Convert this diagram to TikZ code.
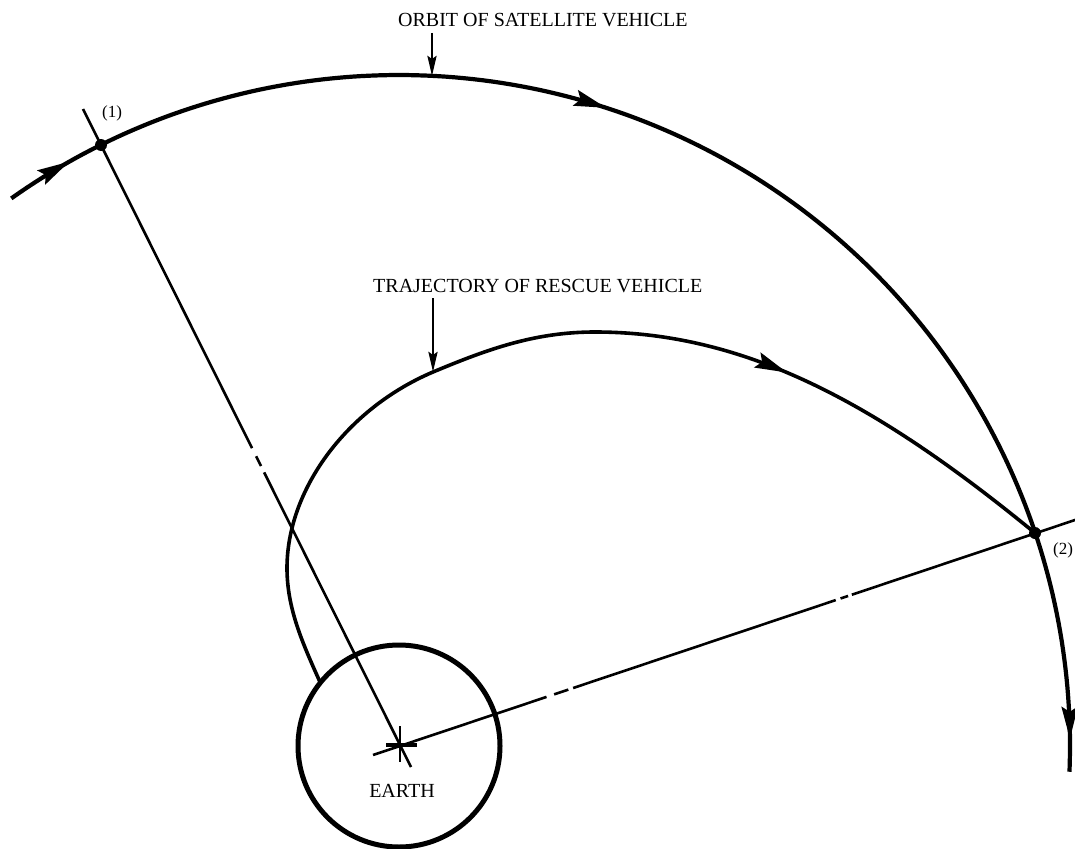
\documentclass[tikz,border=0pt]{standalone}
\usepackage{fontspec}
\setmainfont{Liberation Serif}
\usetikzlibrary{arrows.meta,decorations.markings}
\tikzset{bigtip/.tip={Stealth[length=32pt,width=16pt,inset=5pt]}}
\begin{document}
\begin{tikzpicture}[x=1pt,y=-1pt,
  orbitline/.style={line width=4.2pt},
  rescueline/.style={line width=3.6pt},
  radial/.style={line width=2.6pt},
  ptr/.style={line width=2.8pt,-{Stealth[length=20pt,width=9pt,inset=3pt]}},
  lbl/.style={font=\fontsize{20}{24}\selectfont,inner sep=0pt},
  ptlbl/.style={font=\fontsize{17}{20}\selectfont,inner sep=0pt},
  dot/.style={circle,fill,inner sep=0pt,minimum size=12pt}
]
\useasboundingbox (0,0) rectangle (1075,848);
% key points
\coordinate (E) at (399,746);
\coordinate (P1) at (101,145);
\coordinate (P2) at (1035,533);
\coordinate (T1) at (83,109);
\coordinate (B1) at (411,767);
\coordinate (T2) at (1078,519);
\coordinate (B2) at (373,755);
% earth
\draw[line width=5pt] (E) circle[radius=101];
% radial lines
\draw[radial,dash pattern=on 379pt off 9pt on 11pt off 7pt on 2000pt off 1pt] (T1) -- (B1);
\draw[radial,dash pattern=on 183pt off 8pt on 15pt off 5pt on 277pt off 5pt on 8pt off 4pt on 2000pt off 1pt] (B2) -- (T2);
% center cross
\coordinate (Cv1) at (400,726);
\coordinate (Cv2) at (400,762);
\coordinate (Ch1) at (386,745);
\coordinate (Ch2) at (417,745);
\draw[line width=2.6pt] (Cv1) -- (Cv2);
\draw[line width=3.2pt] (Ch1) -- (Ch2);
% orbit of satellite
\draw[orbitline,postaction={decorate},decoration={markings,
   mark=at position 0.046 with {\arrow{bigtip}},
   mark=at position 0.418 with {\arrow{bigtip}},
   mark=at position 0.978 with {\arrow{bigtip}}}]
  plot[domain=-125.3:2.2,samples=160,variable=\t] ({399+671*cos(\t)},{746+671*sin(\t)});
% trajectory of rescue vehicle
\coordinate (R0) at (320,682);
\coordinate (RL) at (287,568);
\coordinate (RD) at (433,372);
\coordinate (RT) at (595,332);
\draw[rescueline,postaction={decorate},decoration={markings,
   mark=at position 0.715 with {\arrow{bigtip}}}]
  (R0) .. controls (302,642) and (287,608) .. (RL)
       .. controls (287,490) and (346,409) .. (RD)
       .. controls (488,349) and (535,332) .. (RT)
       .. controls (748,332) and (880,406) .. (P2);
% points
\node[dot] (d1) at (P1) {};
\node[dot] (d2) at (P2) {};
\node[ptlbl] (l1) at (112,113) {(1)};
\node[ptlbl] (l2) at (1063,550) {(2)};
% labels
\node[lbl,anchor=base west] (orbitlbl) at (398,27) {ORBIT OF SATELLITE VEHICLE};
\node[lbl,anchor=base west] (rescuelbl) at (373,292) {TRAJECTORY OF RESCUE VEHICLE};
\node[lbl,anchor=base] (earthlbl) at (402,797) {EARTH};
% pointers
\coordinate (oTail) at (432,33);
\coordinate (oTip) at (432,76);
\coordinate (rTail) at (433,298);
\coordinate (rTip) at (433,372);
\draw[ptr] (oTail) -- (oTip);
\draw[ptr] (rTail) -- (rTip);
\end{tikzpicture}
\end{document}
